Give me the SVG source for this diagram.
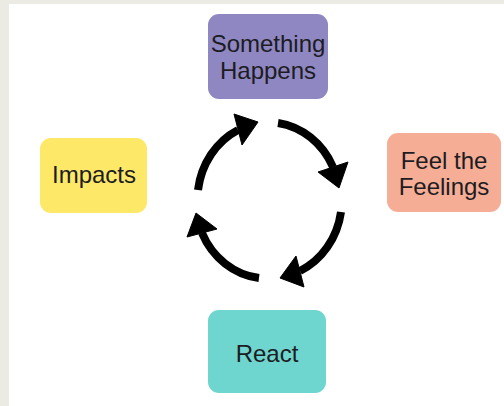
<svg xmlns="http://www.w3.org/2000/svg" width="504" height="406" viewBox="0 0 504 406">
  <style>
    .box { stroke: none; }
    .label { font-family: "Liberation Sans", Arial, sans-serif; font-size: 24px; fill: #1c1c22; text-anchor: middle; }
    .arc { fill: none; stroke: #000; stroke-width: 8; stroke-linecap: butt; }
    .head { fill: #000; stroke: #000; stroke-width: 1; stroke-linejoin: miter; }
  </style>

  <!-- page frame -->
  <rect x="0" y="0" width="504" height="406" fill="#ecebe3"/>
  <rect x="9" y="4" width="495" height="402" fill="#ffffff"/>

  <!-- stages -->
  <g id="something-happens">
    <rect class="box" x="208" y="14" width="120" height="85" rx="11" fill="#8f87c2"/>
    <text class="label" x="268" y="52">Something</text>
    <text class="label" x="268" y="79">Happens</text>
  </g>

  <g id="feel-the-feelings">
    <rect class="box" x="387" y="133" width="114" height="79" rx="11" fill="#f5ad96"/>
    <text class="label" x="444" y="169">Feel the</text>
    <text class="label" x="444" y="195">Feelings</text>
  </g>

  <g id="react">
    <rect class="box" x="208" y="310" width="118" height="83" rx="11" fill="#6ed5cf"/>
    <text class="label" x="267" y="362">React</text>
  </g>

  <g id="impacts">
    <rect class="box" x="40" y="138" width="107" height="75" rx="11" fill="#fde867"/>
    <text class="label" x="94" y="183">Impacts</text>
  </g>

  <!-- cycle arrows, clockwise -->
  <g id="connectors">
    <path class="arc" d="M198,190 A72,78 0 0 1 238,130"/>
    <polygon class="head" points="234,114 258,122 242,145"/>

    <path class="arc" d="M278,123 A72,78 0 0 1 333,167"/>
    <polygon class="head" points="318,172 348,162 339,188"/>

    <path class="arc" d="M341,212 A72,78 0 0 1 300,271"/>
    <polygon class="head" points="296,256 304,287 280,278"/>

    <path class="arc" d="M259,278 A72,78 0 0 1 202,233"/>
    <polygon class="head" points="217,229 187,237 196,213"/>
  </g>
</svg>
